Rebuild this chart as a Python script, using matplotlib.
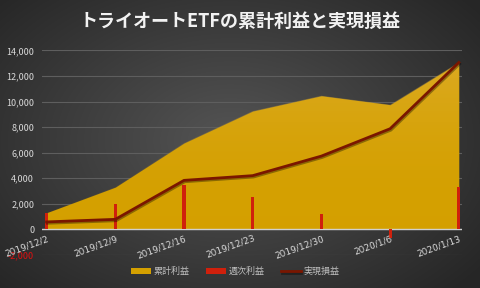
import numpy as np
import matplotlib.pyplot as plt
import matplotlib.patheffects as pe
from matplotlib.patches import Polygon

plt.rcParams['font.family'] = ['Noto Sans CJK JP', 'DejaVu Sans']

dates = ['2019/12/2', '2019/12/9', '2019/12/16', '2019/12/23',
         '2019/12/30', '2020/1/6', '2020/1/13']
cumulative = [1300, 3300, 6750, 9250, 10450, 9750, 13050]
weekly = [1300, 2000, 3450, 2500, 1200, -700, 3300]
realized = [580, 780, 3830, 4200, 5730, 7870, 13050]
yticks = [-2000, 0, 2000, 4000, 6000, 8000, 10000, 12000, 14000]

fig = plt.figure(figsize=(4.8, 2.88), dpi=100)

# radial background
bg = fig.add_axes([0, 0, 1, 1])
yy, xx = np.mgrid[0:288, 0:480]
r = np.sqrt(((xx - 230) / 300.0) ** 2 + ((yy - 140) / 200.0) ** 2)
shade = np.clip(0.33 - 0.17 * r, 0.15, 0.33)
bg.imshow(np.dstack([shade] * 3), extent=[0, 1, 0, 1], aspect='auto')
bg.set_axis_off()

ax = fig.add_axes([0.0885, 0.115, 0.8745, 0.71])
ax.patch.set_alpha(0)
x = np.arange(len(dates))

ax.set_xlim(-0.06, 6.05)
ax.set_ylim(-2000, 14000)
ax.set_yticks(yticks)
ax.grid(axis='y', color='#5e5e5e', linewidth=0.8)
ax.set_axisbelow(True)

area = ax.fill_between(x, 0, cumulative, color='#d4a000', zorder=2,
                       linewidth=0, label='累計利益')
# light gradient on top of the area
poly = Polygon(np.column_stack([np.r_[x, x[::-1]],
                                np.r_[cumulative, np.zeros(len(x))]]),
               transform=ax.transData, facecolor='none', edgecolor='none')
ax.add_patch(poly)
grad = np.linspace(0, 1, 256).reshape(-1, 1)
gimg = ax.imshow(grad, extent=[-0.06, 6.05, 0, 13100], origin='lower',
                 cmap=plt.matplotlib.colors.LinearSegmentedColormap.from_list(
                     'g', [(0.83, 0.62, 0.0, 0.0), (0.9, 0.72, 0.3, 0.45)]),
                 aspect='auto', zorder=2.1)
gimg.set_clip_path(poly)

bars = ax.bar(x, weekly, width=0.045, color='#d0200c', zorder=3,
              label='週次利益')

line, = ax.plot(x, realized, color='#7a1600', linewidth=2.0, zorder=4,
                label='実現損益',
                path_effects=[pe.SimpleLineShadow(offset=(0.6, -1.0),
                                                  alpha=0.35,
                                                  shadow_color='black'),
                              pe.Normal()])

ax.axhline(0, color='#cfcfcf', linewidth=1.0, zorder=2.5)

for s in ax.spines.values():
    s.set_visible(False)

ax.set_yticklabels([f'{v:,}' for v in yticks])
ax.tick_params(axis='y', length=0, labelsize=6.5, colors='#d9d9d9', pad=6)
ax.get_yticklabels()[0].set_color('#e01010')

ax.set_xticks(x)
ax.set_xticklabels([])
ax.tick_params(axis='x', length=0)
for xi, d in zip(x, dates):
    ax.text(xi + 0.01, -350, d, rotation=20, ha='right', va='top',
            rotation_mode='anchor', fontsize=6.5, color='#d9d9d9',
            family=['DejaVu Sans'], zorder=5)

fig.text(0.5, 0.925, 'トライオートETFの累計利益と実現損益', ha='center',
         va='center', fontsize=13, fontweight='bold', color='#f2f2f2')

leg = fig.legend([area, bars, line], ['累計利益', '週次利益', '実現損益'],
                 loc='center', bbox_to_anchor=(0.49, 0.057),
                 ncol=3, frameon=False, fontsize=6.5, handlelength=2.2,
                 handleheight=0.5, columnspacing=1.8, handletextpad=0.3)
for t in leg.get_texts():
    t.set_color('#bfbfbf')

fig.savefig('out.png', dpi=100)
